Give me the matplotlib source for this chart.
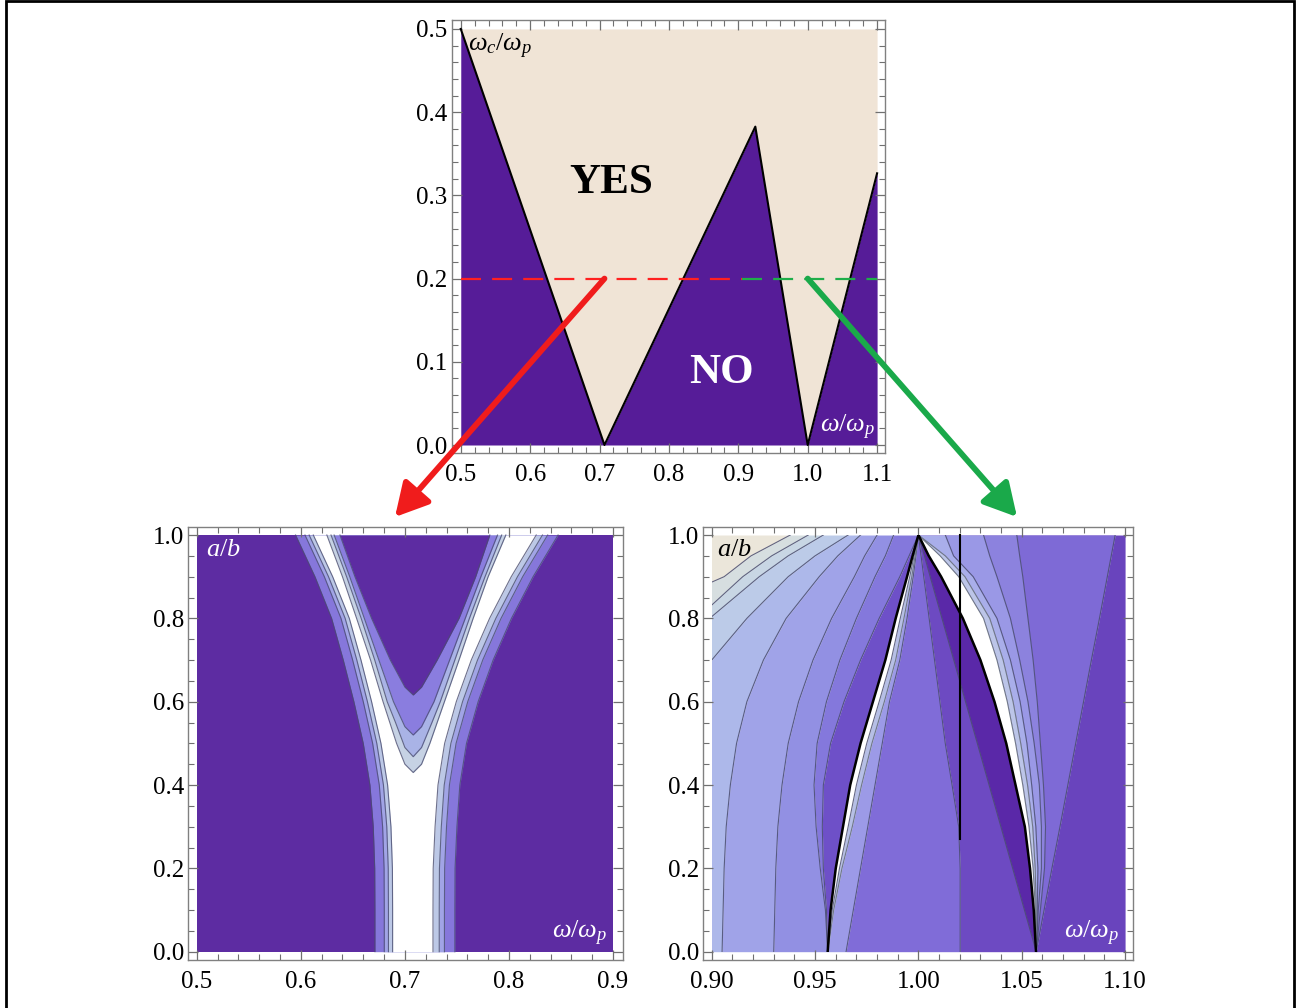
import numpy as np
import matplotlib
matplotlib.use('Agg')
import matplotlib.pyplot as plt
from matplotlib.ticker import MultipleLocator, FormatStrFormatter
from matplotlib.patches import Rectangle

plt.rcParams['font.family'] = ['Liberation Serif', 'DejaVu Serif']
plt.rcParams['mathtext.fontset'] = 'custom'
plt.rcParams['mathtext.rm'] = 'Liberation Serif'
plt.rcParams['mathtext.it'] = 'Liberation Serif:italic'

# ---------------- top panel : wc/wp versus w/wp ----------------
edge_w = [0.5, 0.7071, 0.9245, 1.0, 1.1]
edge_wc = [0.5, 0.0, 0.3826, 0.0, 0.3265]
cut_wc = 0.2
red_end = 0.905          # dashed cut line turns green here
zoom_from = [0.7071, 1.0]  # where the two arrows start

# ---------------- bottom left : a/b versus w/wp ----------------
ab = [0.0, 0.1, 0.2, 0.3, 0.4, 0.5, 0.6, 0.7, 0.8, 0.9, 1.0]
left_outer = [0.6712, 0.6712, 0.6710, 0.6696, 0.6664, 0.6600, 0.6510, 0.6408, 0.6296, 0.6136, 0.5950]
left_band1 = [0.6802, 0.6802, 0.6800, 0.6786, 0.6754, 0.6690, 0.6600, 0.6498, 0.6386, 0.6226, 0.6040]
left_band2 = [0.6842, 0.6842, 0.6840, 0.6826, 0.6794, 0.6730, 0.6640, 0.6538, 0.6426, 0.6266, 0.6080]
left_white = [0.6882, 0.6882, 0.6880, 0.6866, 0.6834, 0.6770, 0.6680, 0.6578, 0.6466, 0.6306, 0.6120]
right_outer = [0.7480, 0.7480, 0.7482, 0.7500, 0.7528, 0.7592, 0.7704, 0.7848, 0.8024, 0.8232, 0.8472]
right_band1 = [0.7380, 0.7380, 0.7382, 0.7400, 0.7428, 0.7492, 0.7604, 0.7748, 0.7924, 0.8132, 0.8372]
right_band2 = [0.7330, 0.7330, 0.7332, 0.7350, 0.7378, 0.7442, 0.7554, 0.7698, 0.7874, 0.8082, 0.8322]
right_white = [0.7270, 0.7270, 0.7272, 0.7290, 0.7318, 0.7382, 0.7494, 0.7638, 0.7814, 0.8022, 0.8262]

# nested V inside the fork (apex first)
vp_y = [0.43, 0.45, 0.5, 0.6, 0.7, 0.8, 0.9, 1.0]
vp_l = [0.708, 0.700, 0.692, 0.679, 0.667, 0.6536, 0.640, 0.6250]
vp_r = [0.708, 0.716, 0.724, 0.738, 0.752, 0.7656, 0.780, 0.7970]
vb_y = [0.468, 0.49, 0.55, 0.6, 0.7, 0.8, 0.9, 1.0]
vb_l = [0.708, 0.700, 0.691, 0.683, 0.671, 0.658, 0.644, 0.6290]
vb_r = [0.708, 0.716, 0.726, 0.734, 0.748, 0.762, 0.777, 0.7930]
vl_y = [0.52, 0.54, 0.6, 0.7, 0.8, 0.9, 1.0]
vl_l = [0.708, 0.700, 0.689, 0.675, 0.661, 0.647, 0.6320]
vl_r = [0.708, 0.716, 0.728, 0.743, 0.758, 0.773, 0.7890]
vd_y = [0.616, 0.635, 0.7, 0.8, 0.9, 1.0]
vd_l = [0.708, 0.700, 0.686, 0.668, 0.652, 0.6376]
vd_r = [0.708, 0.716, 0.731, 0.752, 0.768, 0.7816]

# ---------------- bottom right : a/b versus w/wp ----------------
ab2 = [0.0, 0.1, 0.2, 0.3, 0.4, 0.5, 0.6, 0.7, 0.8, 0.9, 0.95, 1.0]
# contour lines of the fan, left to right
k1 = [0.70, 0.70, 0.70, 0.70, 0.70, 0.70, 0.74, 0.80, 0.860, 0.906, 0.919, 0.938]
k2 = [0.70, 0.70, 0.70, 0.70, 0.70, 0.73, 0.78, 0.845, 0.893, 0.915, 0.929, 0.9467]
k3 = [0.70, 0.70, 0.70, 0.70, 0.73, 0.78, 0.83, 0.878, 0.899, 0.923, 0.937, 0.954]
k4 = [0.72, 0.74, 0.76, 0.79, 0.82, 0.86, 0.884, 0.900, 0.917, 0.937, 0.950, 0.966]
k5 = [0.905, 0.9055, 0.906, 0.907, 0.909, 0.912, 0.917, 0.925, 0.936, 0.952, 0.961, 0.972]
k6 = [0.930, 0.9305, 0.931, 0.932, 0.934, 0.937, 0.942, 0.949, 0.958, 0.969, 0.974, 0.980]
k6b = [0.9561, 0.955, 0.9525, 0.9505, 0.9495, 0.951, 0.9555, 0.962, 0.970, 0.979, 0.984, 0.988]
k7 = [0.9561, 0.9555, 0.954, 0.9535, 0.954, 0.9575, 0.964, 0.972, 0.981, 0.991, 0.9955, 1.0]
lens_l = [0.9561, 0.9575, 0.960, 0.9635, 0.967, 0.972, 0.978, 0.984, 0.989, 0.9945, 0.9972, 1.0]
lens_r = [0.9561, 0.9583, 0.9618, 0.966, 0.970, 0.975, 0.981, 0.9868, 0.9912, 0.9958, 0.9979, 1.0]
lens_g = [0.9561, 0.959, 0.963, 0.968, 0.9725, 0.9775, 0.9835, 0.989, 0.993, 0.9968, 0.9984, 1.0]
c1 = [0.965, 0.9685, 0.972, 0.9755, 0.979, 0.9825, 0.986, 0.991, 0.9945, 0.9975, 0.9988, 1.0]
cv = [1.0202, 1.0202, 1.0202, 1.0195, 1.0163, 1.013, 1.0104, 1.0078, 1.0052, 1.0026, 1.0013, 1.0]
d1 = [1.057, 1.0513, 1.0456, 1.0399, 1.0342, 1.0285, 1.0228, 1.0171, 1.0114, 1.0057, 1.0029, 1.0]
rl_l = [1.0569, 1.0558, 1.054, 1.0515, 1.047, 1.0425, 1.0368, 1.030, 1.0215, 1.011, 1.005, 1.0]
rl_r = [1.0569, 1.0566, 1.0555, 1.0535, 1.0505, 1.047, 1.043, 1.038, 1.0315, 1.0195, 1.0105, 1.0]
rl_g = [1.0569, 1.057, 1.0565, 1.0553, 1.0528, 1.0495, 1.0458, 1.041, 1.0345, 1.0225, 1.013, 1.0]
e1 = [1.057, 1.0575, 1.0578, 1.0568, 1.0548, 1.0525, 1.0492, 1.0445, 1.038, 1.0265, 1.017, 1.013]
e2 = [1.057, 1.058, 1.0595, 1.0595, 1.0585, 1.056, 1.0530, 1.049, 1.0445, 1.038, 1.0345, 1.0315]
e3 = [1.057, 1.059, 1.061, 1.0615, 1.0605, 1.059, 1.0575, 1.0555, 1.053, 1.0505, 1.049, 1.0476]
d2 = [1.057, 1.0608, 1.0646, 1.0685, 1.0723, 1.0761, 1.0799, 1.0837, 1.0876, 1.0914, 1.0933, 1.0952]
stub_x = 1.0202
stub_ab = [0.27, 1.0]

purple_top = '#561c98'
beige = '#f0e4d6'
dark_bl = '#5d2ca2'
line_c = '#4a4d70'
tick_fs = 18
lab_fs = 19


def frame(ax, xlim, ylim, xmaj, xmin, ymaj, ymin, xfmt, yfmt):
    ax.set_xlim(*xlim)
    ax.set_ylim(*ylim)
    ax.xaxis.set_major_locator(MultipleLocator(xmaj))
    ax.xaxis.set_minor_locator(MultipleLocator(xmin))
    ax.yaxis.set_major_locator(MultipleLocator(ymaj))
    ax.yaxis.set_minor_locator(MultipleLocator(ymin))
    ax.xaxis.set_major_formatter(FormatStrFormatter(xfmt))
    ax.yaxis.set_major_formatter(FormatStrFormatter(yfmt))
    ax.tick_params(which='both', direction='in', top=True, right=True,
                   color='#707070', labelsize=tick_fs)
    ax.tick_params(axis='x', which='major', pad=8)
    ax.tick_params(axis='y', which='major', pad=3)
    ax.tick_params(which='major', length=7, width=0.9)
    ax.tick_params(which='minor', length=4, width=0.8)
    for s in ax.spines.values():
        s.set_color('#808080')
        s.set_linewidth(1.0)


fig = plt.figure(figsize=(13.06, 10.08), dpi=100)

# ===== top panel =====
ax0 = fig.add_axes([0.3459, 0.5506, 0.3318, 0.4296])
ax0.fill_between(edge_w, 0, edge_wc, color=purple_top, lw=0)
ax0.fill_between(edge_w, edge_wc, 0.5, color=beige, lw=0)
ax0.plot(edge_w, edge_wc, color='black', lw=1.5)
ax0.plot([0.5, red_end], [cut_wc, cut_wc], color='#ff2020', lw=1.6, dashes=(9, 5))
ax0.plot([red_end, 1.1], [cut_wc, cut_wc], color='#1fae4a', lw=1.6, dashes=(9, 5))
ax0.text(0.7166, 0.315, 'YES', fontsize=31, fontweight='bold', ha='center', va='center')
ax0.text(0.875, 0.0865, 'NO', fontsize=31, fontweight='bold', ha='center', va='center',
         color='white')
ax0.text(0.511, 0.496, r'$\omega_c/\omega_p$', fontsize=lab_fs, ha='left', va='top')
ax0.text(1.097, 0.004, r'$\omega/\omega_p$', fontsize=lab_fs, ha='right', va='bottom',
         color='white')
frame(ax0, (0.487, 1.1115), (-0.0096, 0.5108), 0.1, 0.02, 0.1, 0.02, '%.1f', '%.1f')

# ===== bottom left panel =====
ax1 = fig.add_axes([0.1442, 0.0476, 0.3326, 0.4299])
ax1.fill_between([0.5, 0.9], 0, 1, color=dark_bl, lw=0)
ax1.fill_betweenx(ab, left_outer, right_outer, color='#8677db', lw=0)
ax1.fill_betweenx(ab, left_band1, right_band1, color='#a1a4e6', lw=0)
ax1.fill_betweenx(ab, left_band2, right_band2, color='#bcc8e6', lw=0)
ax1.fill_betweenx(ab, left_white, right_white, color='white', lw=0)
ax1.fill_betweenx(vp_y, vp_l, vp_r, color='#c6d2e4', lw=0)
ax1.fill_betweenx(vb_y, vb_l, vb_r, color='#a9b3e6', lw=0)
ax1.fill_betweenx(vl_y, vl_l, vl_r, color='#8a7ddf', lw=0)
ax1.fill_betweenx(vd_y, vd_l, vd_r, color=dark_bl, lw=0)
for cx in [left_outer, left_band1, left_band2, left_white,
           right_outer, right_band1, right_band2, right_white]:
    ax1.plot(cx, ab, color=line_c, lw=0.8, alpha=0.8)
for vy, vl, vr in [(vp_y, vp_l, vp_r), (vb_y, vb_l, vb_r),
                   (vl_y, vl_l, vl_r), (vd_y, vd_l, vd_r)]:
    ax1.plot(vl[::-1] + vr[1:], vy[::-1] + vy[1:], color=line_c, lw=0.8, alpha=0.8)
ax1.text(0.509, 0.99, r'$a/b$', fontsize=lab_fs, ha='left', va='top', color='white')
ax1.text(0.894, 0.01, r'$\omega/\omega_p$', fontsize=lab_fs, ha='right', va='bottom',
         color='white')
frame(ax1, (0.4919, 0.9093), (-0.02, 1.02), 0.1, 0.02, 0.2, 0.05, '%.1f', '%.1f')

# ===== bottom right panel =====
ax2 = fig.add_axes([0.5385, 0.0476, 0.3293, 0.4299])
clip = Rectangle((0.9, 0.0), 0.2, 1.0, transform=ax2.transData)
edge_l = [0.6] * len(ab2)
edge_r = [1.1] * len(ab2)
base = [(edge_l, k1, '#ebe6da'), (k1, k2, '#d6dee0'), (k2, k3, '#c8d6e4'),
        (k3, k4, '#bccbe8'), (k4, k5, '#adb8ea'), (k5, k6, '#a0a3e8'),
        (k6, k6b, '#9290e3'), (k6b, k7, '#8478dc'), (k7, lens_l, '#6e50c8'),
        (lens_l, lens_r, 'white'),
        (lens_r, lens_g, '#b6bfe6'), (lens_g, c1, '#9c9ae7'), (c1, cv, '#806cd8'),
        (cv, d2, '#6d4ac2'), (d2, edge_r, '#6944bd'),
        (e3, d2, '#7e6ad6'), (e2, e3, '#8c82de'), (e1, e2, '#9a98e6'),
        (rl_g, e1, '#a9aeea'), (d1, rl_l, '#5a28a8'), (rl_l, rl_r, 'white'),
        (rl_r, rl_g, '#bcc5e8')]
for xa, xb, col in base:
    pc = ax2.fill_betweenx(ab2, xa, xb, color=col, lw=0)
    pc.set_clip_path(clip)
for cx in [k1, k2, k3, k4, k5, k6, k6b, k7, lens_r, c1, cv, d1, e1, e2, e3, d2]:
    ln, = ax2.plot(cx, ab2, color=line_c, lw=0.8, alpha=0.85)
    ln.set_clip_path(clip)
for cx in [lens_g, rl_r, rl_g]:
    ln, = ax2.plot(cx, ab2, color='#707888', lw=0.8)
    ln.set_clip_path(clip)
for cx in [lens_l, rl_l]:
    ln, = ax2.plot(cx, ab2, color='black', lw=1.8)
    ln.set_clip_path(clip)
ax2.plot([stub_x, stub_x], stub_ab, color='black', lw=1.5)
ax2.text(0.9025, 0.99, r'$a/b$', fontsize=lab_fs, ha='left', va='top', color='black')
ax2.text(1.097, 0.01, r'$\omega/\omega_p$', fontsize=lab_fs, ha='right', va='bottom',
         color='white')
frame(ax2, (0.8959, 1.104), (-0.02, 1.02), 0.05, 0.01, 0.2, 0.05, '%.2f', '%.1f')

# arrows from the cut line down to the zoomed panels
W, H = 1306.0, 1008.0
for x0, tip, col in [(zoom_from[0], (395, 517), '#f01c1c'),
                     (zoom_from[1], (1017, 517), '#1aa94a')]:
    ax0.annotate('', xy=(tip[0] / W, 1 - tip[1] / H), xycoords='figure fraction',
                 xytext=(x0, cut_wc), textcoords='data',
                 arrowprops=dict(arrowstyle='-|>,head_length=1.1,head_width=0.6',
                                 mutation_scale=18, lw=4.2, color=col,
                                 shrinkA=0, shrinkB=0),
                 annotation_clip=False)

# outer border
fig.patches.append(Rectangle((6 / W, -0.01), (1294 - 6) / W, 1.0 - 1 / H + 0.01,
                             transform=fig.transFigure, fill=False,
                             edgecolor='black', lw=2.0))

fig.savefig('out.png', dpi=100)
